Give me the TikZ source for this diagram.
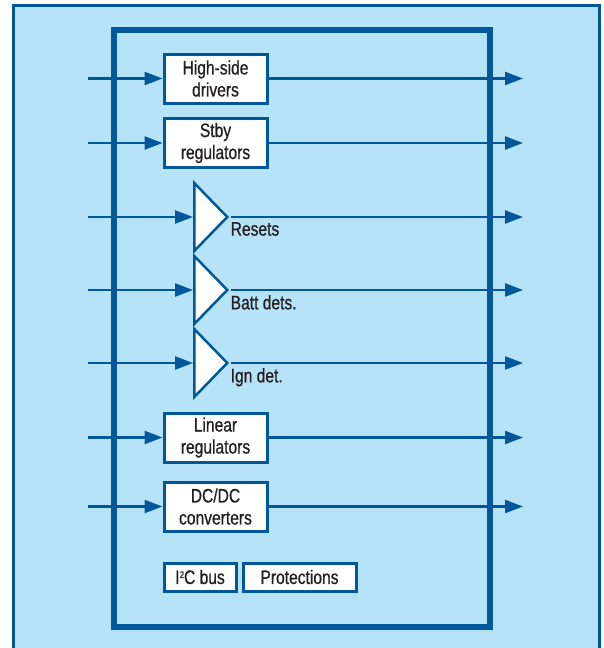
\documentclass[tikz,border=0pt]{standalone}
\usepackage{fontspec}
\setmainfont{Liberation Sans}[FakeStretch=0.8,FakeBold=0.7]
\usetikzlibrary{arrows.meta,shapes.geometric,positioning}
\definecolor{panelblue}{RGB}{183,227,248}
\definecolor{linkblue}{RGB}{0,88,155}
\definecolor{inkgray}{RGB}{35,31,32}
\begin{document}
\begin{tikzpicture}[x=1pt,y=-1pt,
    blk/.style={draw=linkblue, fill=white, line width=3pt, minimum width=103pt, minimum height=49pt,
      inner sep=0pt, align=center, text=inkgray, font=\fontsize{19.5}{22}\selectfont},
    smallblk/.style={blk, minimum height=28pt},
    amp/.style={isosceles triangle, isosceles triangle stretches, draw=linkblue, fill=white,
      line width=2.5pt, minimum width=68pt, minimum height=33pt, inner sep=0pt, anchor=lower side},
    lbl/.style={text=inkgray, font=\fontsize{19.5}{22}\selectfont, inner sep=0pt, anchor=north west},
    sig/.style={draw=linkblue, line width=2.4pt, -{Triangle[length=18pt,width=13pt]}}]
  \clip (0,0) rectangle (603,648);
  \useasboundingbox (0,0) rectangle (603,648);
  \fill[white] (0,0) rectangle (603,648);
  \filldraw[fill=panelblue, draw=linkblue, line width=3pt] (13,660) -- (13,5) -- (599,5) -- (599,660);
  \draw[linkblue, line width=5.5pt] (114,30) rectangle (490,627);

  \node[blk] (hsd) at (215.5,78.5) {High-side\\drivers};
  \node[blk] (stby) at (215.5,143) {Stby\\regulators};
  \node[amp] (rst) at (193,217) {};
  \node[amp] (batt) at (193,290) {};
  \node[amp] (ign) at (193,363) {};
  \node[blk] (lin) at (215.5,437.5) {Linear\\regulators};
  \node[blk] (dcdc) at (215.5,506.5) {DC/DC\\converters};
  \node[smallblk, minimum width=72pt] (i2c) at (200,577) {I\kern0.3pt\raisebox{6pt}{\fontsize{9.5}{9.5}\selectfont 2}C bus};
  \node[smallblk, minimum width=113pt] (prot) at (299.5,577) {Protections};

  \node[lbl] (rstl) at ([xshift=0pt,yshift=-5pt]rst.apex) {Resets};
  \node[lbl] (battl) at ([xshift=0pt,yshift=-5pt]batt.apex) {Batt dets.};
  \node[lbl] (ignl) at ([xshift=0pt,yshift=-5pt]ign.apex) {Ign det.};

  \coordinate (hsdin) at (88,78.5);
  \coordinate (stbyin) at (88,143);
  \coordinate (rstin) at (88,217);
  \coordinate (battin) at (88,290);
  \coordinate (ignin) at (88,363);
  \coordinate (linin) at (88,437.5);
  \coordinate (dcdcin) at (88,506.5);
  \coordinate (hsdout) at (523,78.5);
  \coordinate (stbyout) at (523,143);
  \coordinate (rstout) at (523,217);
  \coordinate (battout) at (523,290);
  \coordinate (ignout) at (523,363);
  \coordinate (linout) at (523,437.5);
  \coordinate (dcdcout) at (523,506.5);

  \draw[sig] (hsdin) -- (hsd);
  \draw[sig] (stbyin) -- (stby);
  \draw[sig] (rstin) -- (rst.lower side);
  \draw[sig] (battin) -- (batt.lower side);
  \draw[sig] (ignin) -- (ign.lower side);
  \draw[sig] (linin) -- (lin);
  \draw[sig] (dcdcin) -- (dcdc);

  \draw[sig] (hsd) -- (hsdout);
  \draw[sig] (stby) -- (stbyout);
  \draw[sig] (rst.apex) -- (rstout);
  \draw[sig] (batt.apex) -- (battout);
  \draw[sig] (ign.apex) -- (ignout);
  \draw[sig] (lin) -- (linout);
  \draw[sig] (dcdc) -- (dcdcout);
\end{tikzpicture}
\end{document}
